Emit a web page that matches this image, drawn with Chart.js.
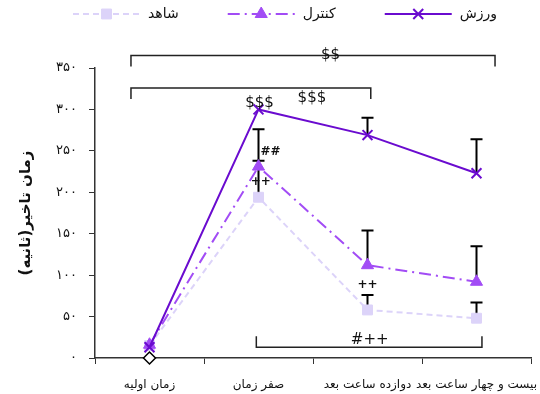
<!DOCTYPE html>
<html>
<head>
<meta charset="utf-8">
<script src="https://cdn.jsdelivr.net/npm/chart.js@4.4.1/dist/chart.umd.min.js"></script>
<style>
  html, body { margin: 0; padding: 0; background: #fff; }
</style>
</head>
<body>
<canvas id="myChart" width="540" height="394"></canvas>
<script>
// categories and values
const categories = ['زمان اولیه', 'صفر زمان', 'دوازده ساعت بعد', 'بیست و چهار ساعت بعد'];
const yTicks = [0, 50, 100, 150, 200, 250, 300, 350];

const exerciseValues = [13, 300, 269, 223];   // ورزش
const controlValues = [16, 231, 112, 92];     // کنترل
const shamValues = [15, 194, 58, 48];         // شاهد
const baselineValues = [0, null, null, null]; // diamond marker

// upward error bars (size, seconds)
const exerciseErr = [0, 0, 21, 41];
const controlErr = [0, 45, 42, 43];
const shamErr = [0, 44, 18, 19];

// significance labels: [text, category position, value]
const sigLabels = [
  ['$$', 1.66, 365],
  ['$$$', 1.49, 314],
  ['$$$', 1.01, 308],
  ['##', 1.11, 249],
  ['++', 1.02, 212],
  ['++', 2.0, 88],
  ['#++', 2.02, 22]
];
// brackets: [from category, to category, value, end direction]
const sigBrackets = [
  [-0.17, 3.17, 365, 1],
  [-0.17, 2.03, 326, 1],
  [0.98, 3.05, 13, -1]
];

const colors = {
  exercise: '#6A0BCF',
  control: '#A24CF5',
  sham: '#DCD3F9'
};

const toFa = n => String(n).replace(/\d/g, d => '۰۱۲۳۴۵۶۷۸۹'[d]);
const FONT = 'DejaVu Sans';

const errorBarsPlugin = {
  id: 'errorBars',
  beforeDatasetsDraw(chart) {
    const { ctx, scales: { x, y } } = chart;
    ctx.save();
    ctx.strokeStyle = '#000';
    ctx.lineWidth = 2;
    chart.data.datasets.forEach(ds => {
      if (!ds.errUp) return;
      ds.data.forEach((v, i) => {
        const e = ds.errUp[i];
        if (v == null || !e) return;
        const px = x.getPixelForValue(i);
        const y0 = y.getPixelForValue(v);
        const y1 = y.getPixelForValue(v + e);
        ctx.beginPath();
        ctx.moveTo(px, y0);
        ctx.lineTo(px, y1);
        ctx.moveTo(px - 6, y1);
        ctx.lineTo(px + 6, y1);
        ctx.stroke();
      });
    });
    ctx.restore();
  }
};

const annotationsPlugin = {
  id: 'sigMarks',
  afterDatasetsDraw(chart) {
    const { ctx, scales: { x, y } } = chart;
    const xAt = c => x.getPixelForValue(0) + c * (x.getPixelForValue(1) - x.getPixelForValue(0));
    ctx.save();
    ctx.strokeStyle = '#222';
    ctx.lineWidth = 1.5;
    sigBrackets.forEach(([a, b, v, dir]) => {
      const py = y.getPixelForValue(v);
      ctx.beginPath();
      ctx.moveTo(xAt(a), py + dir * 11);
      ctx.lineTo(xAt(a), py);
      ctx.lineTo(xAt(b), py);
      ctx.lineTo(xAt(b), py + dir * 11);
      ctx.stroke();
    });
    ctx.fillStyle = '#111';
    ctx.textAlign = 'center';
    ctx.textBaseline = 'middle';
    sigLabels.forEach(([t, c, v]) => {
      const big = t.indexOf('$') >= 0 || t === '#++';
      ctx.font = (big ? '15px ' : 'bold 12px ') + FONT;
      ctx.fillText(t, xAt(c), y.getPixelForValue(v));
    });
    ctx.restore();
  }
};

const legendPlugin = {
  id: 'lineLegend',
  afterDraw(chart) {
    // legend: line sample with marker, then label, left to right
    const c = chart.ctx;
    const items = chart.data.datasets.filter(ds => !ds.hideInLegend);
    c.save();
    c.font = '14px ' + FONT;
    c.textBaseline = 'middle';
    let px = 73;
    const py = 14;
    items.forEach(ds => {
      c.strokeStyle = ds.borderColor;
      c.lineWidth = 2;
      c.setLineDash(ds.borderDash || []);
      c.beginPath();
      c.moveTo(px, py);
      c.lineTo(px + 67, py);
      c.stroke();
      c.setLineDash([]);
      c.fillStyle = ds.backgroundColor;
      c.strokeStyle = ds.borderColor;
      c.lineWidth = ds.pointBorderWidth;
      Chart.helpers.drawPoint(c, {
        pointStyle: ds.pointStyle,
        radius: ds.pointRadius,
        borderWidth: ds.pointBorderWidth,
        rotation: 0
      }, px + 33.5, py);
      c.fillStyle = '#111';
      c.textAlign = 'left';
      c.fillText(ds.label, px + 75, py);
      px += 75 + c.measureText(ds.label).width + 49;
    });
    c.restore();
  }
};

const ctx = document.getElementById('myChart').getContext('2d');

const myChart = new Chart(ctx, {
  type: 'line',
  data: {
    labels: categories,
    datasets: [
      {
        label: 'شاهد',
        data: shamValues,
        errUp: shamErr,
        borderColor: colors.sham,
        backgroundColor: colors.sham,
        borderWidth: 2,
        borderDash: [6, 4],
        pointStyle: 'rect',
        pointRadius: 7,
        pointBorderWidth: 1,
        clip: false,
        order: 3
      },
      {
        label: 'کنترل',
        data: controlValues,
        errUp: controlErr,
        borderColor: colors.control,
        backgroundColor: colors.control,
        borderWidth: 2,
        borderDash: [12, 5, 2, 5],
        pointStyle: 'triangle',
        pointRadius: 7,
        pointBorderWidth: 1,
        clip: false,
        order: 2
      },
      {
        label: 'ورزش',
        data: exerciseValues,
        errUp: exerciseErr,
        borderColor: colors.exercise,
        backgroundColor: colors.exercise,
        borderWidth: 2,
        pointStyle: 'crossRot',
        pointRadius: 7,
        pointBorderWidth: 2,
        clip: false,
        order: 1
      },
      {
        label: '',
        data: baselineValues,
        hideInLegend: true,
        showLine: false,
        borderColor: '#000',
        backgroundColor: '#fff',
        pointStyle: 'rectRot',
        pointRadius: 6,
        pointBorderWidth: 1.5,
        clip: false,
        order: 0
      }
    ]
  },
  options: {
    responsive: false,
    animation: false,
    layout: { padding: { top: 68, right: 9, bottom: 0, left: 0 } },
    scales: {
      x: {
        offset: true,
        grid: { offset: true, drawOnChartArea: false, drawTicks: true, tickLength: 6, color: '#333' },
        border: { color: '#333', width: 1.5 },
        ticks: { color: '#111', font: { family: FONT, size: 12 }, maxRotation: 0, autoSkip: false, padding: 14 },
        afterFit(scale) {
          scale.height = 36;
          scale.paddingLeft = 0;
          scale.paddingRight = 0;
        }
      },
      y: {
        min: 0,
        max: 350,
        afterBuildTicks(scale) { scale.ticks = yTicks.map(v => ({ value: v })); },
        grid: { drawOnChartArea: false, drawTicks: true, tickLength: 6, color: '#333' },
        border: { color: '#333', width: 1.5 },
        ticks: {
          color: '#111',
          font: { family: FONT, size: 13 },
          padding: 12,
          callback: v => toFa(v)
        },
        title: {
          display: true,
          text: 'زمان تاخیر(ثانیه)',
          color: '#111',
          font: { family: FONT, size: 15, weight: 'bold' },
          padding: { top: 17, bottom: 0 }
        },
        afterFit(scale) {
          scale.width = 95;
          scale.paddingTop = 0;
          scale.paddingBottom = 0;
        }
      }
    },
    plugins: {
      legend: { display: false },
      tooltip: { enabled: false }
    }
  },
  plugins: [errorBarsPlugin, annotationsPlugin, legendPlugin]
});
</script>
</body>
</html>
